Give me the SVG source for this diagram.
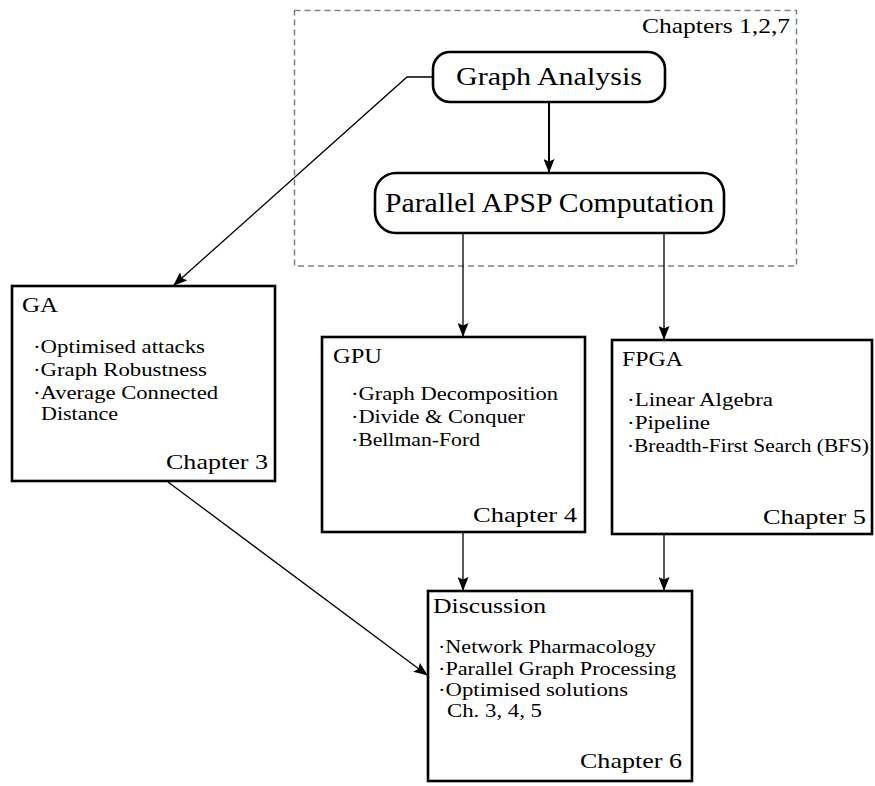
<svg xmlns="http://www.w3.org/2000/svg" width="875" height="786" viewBox="0 0 875 786">
  <style>
    text { font-family: "Liberation Serif", "DejaVu Serif", serif; fill: #000; }
    .box { fill: #fff; stroke: #000; stroke-width: 2.6; }
    .title { font-size: 22px; }
    .item { font-size: 19px; }
    .chap { font-size: 22px; }
    .edge { fill: none; stroke: #000; stroke-width: 1.3; marker-end: url(#arr); }
    .edge-thick { fill: none; stroke: #000; stroke-width: 2; marker-end: url(#arr); }
  </style>
  <defs>
    <marker id="arr" viewBox="0 0 14 11" refX="13" refY="5.5" markerWidth="14" markerHeight="11" markerUnits="userSpaceOnUse" orient="auto">
      <path d="M0,0 L14,5.5 L0,11 L2.5,5.5 Z" fill="#000"/>
    </marker>
  </defs>

  <!-- dashed frame around chapters 1, 2 and 7 -->
  <g id="frame">
    <rect x="294.5" y="10.5" width="502" height="255.5" fill="none" stroke="#808080" stroke-width="1.5" stroke-dasharray="6,4"/>
    <text x="642" y="33" class="chap" textLength="148" lengthAdjust="spacingAndGlyphs">Chapters 1,2,7</text>
  </g>

  <!-- connectors -->
  <g id="connectors">
    <polyline class="edge" points="433,77 407,77 174,285"/>
    <line class="edge-thick" x1="549" y1="102" x2="549" y2="172"/>
    <line class="edge" x1="463" y1="233" x2="463" y2="336"/>
    <line class="edge" x1="664" y1="233" x2="664" y2="339"/>
    <line class="edge" x1="168" y1="482" x2="427" y2="675"/>
    <line class="edge" x1="463" y1="532" x2="463" y2="590"/>
    <line class="edge" x1="664" y1="534" x2="664" y2="590"/>
  </g>

  <g id="graph-analysis">
    <rect class="box" x="433" y="52" width="232" height="50" rx="17"/>
    <text x="456" y="85" style="font-size:26px" textLength="186" lengthAdjust="spacingAndGlyphs">Graph Analysis</text>
  </g>

  <g id="apsp">
    <rect class="box" x="375" y="173" width="349" height="60" rx="21"/>
    <text x="385" y="212" style="font-size:28px" textLength="329" lengthAdjust="spacingAndGlyphs">Parallel APSP Computation</text>
  </g>

  <g id="ga">
    <rect class="box" x="12" y="286" width="263" height="195"/>
    <text x="22" y="312" class="title" textLength="36" lengthAdjust="spacingAndGlyphs">GA</text>
    <text x="33" y="353" class="item" textLength="172" lengthAdjust="spacingAndGlyphs">·Optimised attacks</text>
    <text x="33" y="376" class="item" textLength="174" lengthAdjust="spacingAndGlyphs">·Graph Robustness</text>
    <text x="33" y="399" class="item" textLength="185" lengthAdjust="spacingAndGlyphs">·Average Connected</text>
    <text x="41" y="420" class="item" textLength="77" lengthAdjust="spacingAndGlyphs">Distance</text>
    <text x="166" y="469" class="chap" textLength="102" lengthAdjust="spacingAndGlyphs">Chapter 3</text>
  </g>

  <g id="gpu">
    <rect class="box" x="322" y="337" width="263" height="195"/>
    <text x="333" y="363" class="title" textLength="49" lengthAdjust="spacingAndGlyphs">GPU</text>
    <text x="351" y="400" class="item" textLength="207" lengthAdjust="spacingAndGlyphs">·Graph Decomposition</text>
    <text x="351" y="423" class="item" textLength="174" lengthAdjust="spacingAndGlyphs">·Divide &amp; Conquer</text>
    <text x="351" y="446" class="item" textLength="129" lengthAdjust="spacingAndGlyphs">·Bellman-Ford</text>
    <text x="473" y="522" class="chap" textLength="104" lengthAdjust="spacingAndGlyphs">Chapter 4</text>
  </g>

  <g id="fpga">
    <rect class="box" x="612" y="340" width="260" height="194"/>
    <text x="622" y="366" class="title" textLength="61" lengthAdjust="spacingAndGlyphs">FPGA</text>
    <text x="627" y="406" class="item" textLength="146" lengthAdjust="spacingAndGlyphs">·Linear Algebra</text>
    <text x="627" y="429" class="item" textLength="83" lengthAdjust="spacingAndGlyphs">·Pipeline</text>
    <text x="627" y="452" class="item" textLength="242" lengthAdjust="spacingAndGlyphs">·Breadth-First Search (BFS)</text>
    <text x="763" y="524" class="chap" textLength="103" lengthAdjust="spacingAndGlyphs">Chapter 5</text>
  </g>

  <g id="discussion">
    <rect class="box" x="428" y="591" width="264" height="190"/>
    <text x="433" y="613" class="title" textLength="113" lengthAdjust="spacingAndGlyphs">Discussion</text>
    <text x="438" y="653" class="item" textLength="218" lengthAdjust="spacingAndGlyphs">·Network Pharmacology</text>
    <text x="438" y="675" class="item" textLength="238" lengthAdjust="spacingAndGlyphs">·Parallel Graph Processing</text>
    <text x="438" y="696" class="item" textLength="190" lengthAdjust="spacingAndGlyphs">·Optimised solutions</text>
    <text x="447" y="717" class="item" textLength="95" lengthAdjust="spacingAndGlyphs">Ch. 3, 4, 5</text>
    <text x="580" y="768" class="chap" textLength="102" lengthAdjust="spacingAndGlyphs">Chapter 6</text>
  </g>
</svg>
